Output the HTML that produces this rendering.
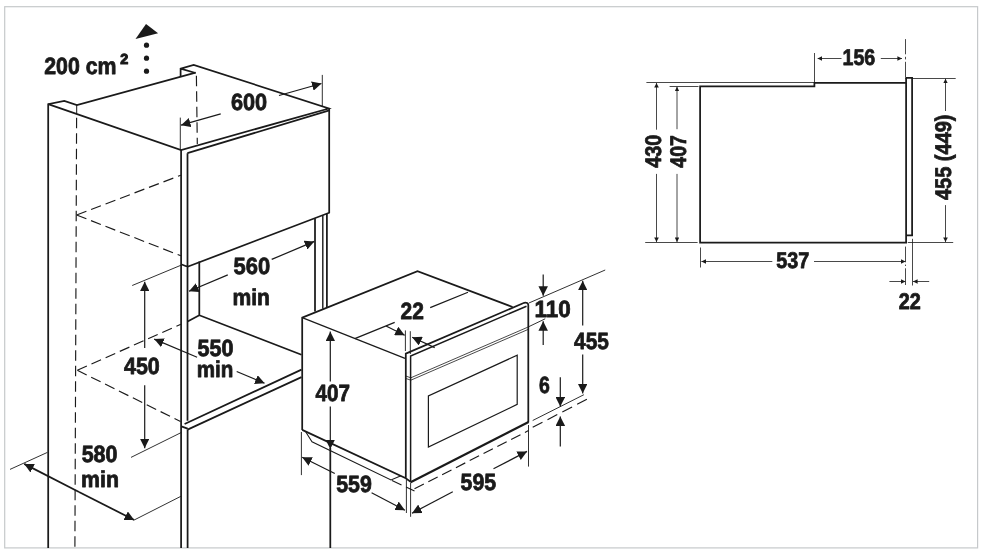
<!DOCTYPE html>
<html><head><meta charset="utf-8">
<style>
html,body{margin:0;padding:0;background:#fff;}
svg{display:block;will-change:transform;}
text{text-rendering:geometricPrecision;font-family:"Liberation Sans",sans-serif;font-weight:bold;fill:#1a1a1a;stroke:#1a1a1a;stroke-width:0.8;stroke-linejoin:round;}
.k{stroke:#1a1a1a;stroke-width:1.75;fill:none;stroke-linecap:butt;stroke-linejoin:miter;}
.t{stroke:#1a1a1a;stroke-width:0.8;fill:none;}
.d{stroke:#1a1a1a;stroke-width:1.15;fill:none;stroke-dasharray:10.5 5;}
.m{stroke:#1a1a1a;stroke-width:1.2;fill:none;}
.a{fill:#1a1a1a;stroke:none;}
</style></head>
<body>
<svg width="983" height="557" viewBox="0 0 983 557">
<defs>
<marker id="A" viewBox="0 0 10 10" refX="10" refY="5" markerWidth="9.5" markerHeight="9.5" markerUnits="userSpaceOnUse" orient="auto-start-reverse"><path d="M0,0 L10,5 L0,10 Z" fill="#1a1a1a"/></marker>
<marker id="S" viewBox="0 0 10 10" refX="10" refY="5" markerWidth="4.6" markerHeight="4.8" markerUnits="userSpaceOnUse" orient="auto-start-reverse"><path d="M0,0 L10,5 L0,10 Z" fill="#1a1a1a"/></marker>
</defs>
<rect x="0" y="0" width="983" height="557" fill="#fff"/>
<rect x="4.7" y="6.7" width="972.9" height="541.2" fill="none" stroke="#c6c9cb" stroke-width="1.2"/>

<!-- ===== CABINET ===== -->
<g id="cab">
<!-- top -->
<path class="k" d="M48.2,548 V104.2 L64.3,101 L76.9,105 L195.6,72.7"/>
<path class="k" d="M48.2,104.2 L181.1,150 L328.8,108.5 L193.7,64.8 L180.6,68.7 V76.4 M180.6,68.7 L195.6,73"/>
<path class="k" d="M187.4,153.2 L329.3,110.4"/>
<path class="k" d="M181.1,150 V548"/>
<path class="k" d="M187.5,153.2 V420.7 M187.6,429.6 V548 M181.1,264.3 L187.5,266.8"/>
<path class="k" d="M329.2,108.5 V212.7 L187.5,266.8"/>
<!-- under door right posts -->
<path class="k" d="M315,218.2 V311.5"/>
<path class="k" style="stroke-width:1.4" d="M322.8,215.3 V308.7"/>
<path class="k" d="M326.9,213.7 V307"/>
<!-- inner left wall & shelf -->
<path class="k" d="M199.3,261.5 V315.2 L301.5,354.8 M199.3,315.2 L187.6,321.4"/>
<!-- lower cabinet top -->
<path class="k" d="M181.3,426.4 L187.6,428.6 M184.6,424 L301.5,369.6 M187.6,429.6 L301.5,377.1"/>
<path class="k" d="M330.3,448 V548"/>
<!-- dashed hidden lines -->
<path class="t" style="stroke-width:1" d="M76.7,105 V113.5"/><path class="d" d="M76.6,117.8 L74.9,548"/>
<path class="d" d="M196.4,75.8 L197.3,144"/>
<path class="d" d="M76.6,215 L180.9,175.2 M76.6,215 L180.9,255.8"/>
<path class="d" d="M77.3,370.3 L180.9,324.2 M77.3,370.3 L180.5,421.5"/>
</g>

<!-- ===== OVEN ===== -->
<g id="oven">
<path class="k" d="M302.2,429.9 V317.6 L417.5,271.3 L512.6,307"/>
<path class="m" d="M302.2,317.6 L405,358.4"/>
<path class="k" d="M405.8,478.2 V353.6 L524.2,302.8 Q528,302.2 528.3,305 V422.3 M411,482.1 L405.8,478.2 L302.2,429.9"/>
<path class="k" style="stroke-width:2.2" d="M528.6,422 L410.6,482.2"/>
<path class="k" style="stroke-width:1.5" d="M410.6,482 V356 L526.5,306.2"/>
<path class="t" d="M405.4,375.9 L410.8,377.8 L528.2,327 M405.4,378.3 L410.8,380.2 L528.2,329.4"/>
<path class="m" d="M428.4,447.1 V395.9 L517.2,355.2 V404.4 Z"/>
<!-- foot -->
<path class="t" style="stroke-width:1.05" d="M305.8,432 L312,441.8 L391,480 L401,475.8"/>
<path class="d" d="M392,480.5 L414.5,491 "/>
<path class="d" d="M414.5,488.8 L528.5,430.6"/>
</g>

<!-- ===== SIDE VIEW ===== -->
<g id="side">
<path class="k" d="M906.1,77.9 V242.6 H700.1 V86.4 H814.4 V82.9 H906.1"/>
<path class="k" d="M905.3,77.9 H912.1 V235.4 H906.1"/>
<path class="t" d="M646.4,82.5 H815"/>
<path class="t" d="M669.6,86.5 H698.5"/>
<path class="t" d="M645.2,242.5 H697.6"/>
<path class="t" d="M814.5,53 V85"/>
<path class="t" d="M905.5,39.1 V54.3 M905.5,56.8 V59.4 M905.5,61.8 V77"/>
<path class="t" d="M912.9,78.5 H955.7 M907.8,242.5 H953.2"/>
<path class="t" d="M700.5,247.5 V267.5"/>
<path class="t" d="M905.5,246.6 V262.3 M905.5,264.6 V266 M905.5,268.3 V285"/>
<path class="t" d="M912.5,238.8 V285.5"/>
<!-- dims -->
<path class="t" d="M656.5,129.7 V83" marker-end="url(#S)"/>
<path class="t" d="M656.5,173.9 V242" marker-end="url(#S)"/>
<path class="t" d="M677,129.2 V86.8" marker-end="url(#S)"/>
<path class="t" d="M677,173.9 V242" marker-end="url(#S)"/>
<path class="t" d="M841.5,58.5 H817.6" marker-end="url(#S)"/>
<path class="t" d="M880.8,58.5 H902" marker-end="url(#S)"/>
<path class="t" d="M945.5,111 V78.7" marker-end="url(#S)"/>
<path class="t" d="M945.5,205.1 V242" marker-end="url(#S)"/>
<path class="t" d="M772.3,261.5 H701.4" marker-end="url(#S)"/>
<path class="t" d="M814,261.5 H905.3" marker-end="url(#S)"/>
<path class="t" d="M889.4,281.5 H905.3" marker-end="url(#S)"/>
<path class="t" d="M929.2,281.5 H913" marker-end="url(#S)"/>
<text x="842.5" y="65" font-size="22.6" textLength="32.8" lengthAdjust="spacingAndGlyphs">156</text>
<text x="776.3" y="268" font-size="22.6" textLength="33.0" lengthAdjust="spacingAndGlyphs">537</text>
<text x="898.8" y="309" font-size="22.6" textLength="22.1" lengthAdjust="spacingAndGlyphs">22</text>
<text transform="translate(661,167.7) rotate(-90)" font-size="22.6" textLength="33" lengthAdjust="spacingAndGlyphs">430</text>
<text transform="translate(686.4,167.7) rotate(-90)" font-size="22.6" textLength="32.5" lengthAdjust="spacingAndGlyphs">407</text>
<text transform="translate(951.3,200) rotate(-90)" font-size="22.6" textLength="85.5" lengthAdjust="spacingAndGlyphs">455 (449)</text>
</g>

<!-- ===== ISO DIMS ===== -->
<g id="dims">
<!-- 200cm2 -->
<path class="a" d="M146,24 L135.5,39 L158.1,33.3 Z"/>
<circle class="a" cx="146.5" cy="45.2" r="2.6"/><circle class="a" cx="146.5" cy="58.2" r="2.6"/><circle class="a" cx="146.5" cy="71.2" r="2.6"/>
<text x="44.2" y="74" font-size="23.5" textLength="72.3" lengthAdjust="spacingAndGlyphs">200 cm</text>
<text x="120.3" y="64.1" font-size="14.6" style="stroke-width:1.1" textLength="8.0" lengthAdjust="spacingAndGlyphs">2</text>
<!-- 600 -->
<path class="t" style="stroke-width:0.9" d="M322.3,74.9 V106.5 M180.3,117.6 V150"/>
<path class="m" d="M279,95.5 L321.5,83.5" marker-end="url(#A)"/>
<path class="m" d="M220.7,113.8 L181,125.2" marker-end="url(#A)"/>
<text x="230.9" y="110" font-size="23.5" textLength="36.2" lengthAdjust="spacingAndGlyphs">600</text>
<!-- 560 -->
<path class="m" d="M227.8,274.9 L189,291.3" marker-end="url(#A)"/>
<path class="m" d="M271.7,259.4 L314.3,241.4" marker-end="url(#A)"/>
<text x="233.5" y="274" font-size="23.5" textLength="36.6" lengthAdjust="spacingAndGlyphs">560</text>
<text x="232.5" y="305" font-size="22.9" textLength="37.5" lengthAdjust="spacingAndGlyphs">min</text>
<!-- 450 -->
<path class="t" style="stroke-width:0.9" d="M132.2,285.5 L181.3,265.1 M131,457.4 L181.3,432.5"/>
<path class="m" d="M144.7,347.9 V281.7" marker-end="url(#A)"/>
<path class="m" d="M144.7,385.3 V448.2" marker-end="url(#A)"/>
<text x="124.0" y="374" font-size="23.5" textLength="35.8" lengthAdjust="spacingAndGlyphs">450</text>
<!-- 550 -->
<path class="m" d="M197.1,357.3 L154.2,339.1" marker-end="url(#A)"/>
<path class="m" d="M236.7,371.5 L264.6,383.3" marker-end="url(#A)"/>
<text x="197.6" y="356" font-size="23.5" textLength="36.0" lengthAdjust="spacingAndGlyphs">550</text>
<text x="196.8" y="377" font-size="22.9" textLength="36.6" lengthAdjust="spacingAndGlyphs">min</text>
<!-- 580 -->
<path class="t" style="stroke-width:0.9" d="M10,469.4 L47.4,452.4 M134.2,520 L180.9,496.3"/>
<path class="k" d="M79,492 L24.2,463.9" marker-end="url(#A)"/>
<path class="k" d="M79,492 L134.2,520" marker-end="url(#A)"/>
<text x="81.7" y="462" font-size="23.5" textLength="35.8" lengthAdjust="spacingAndGlyphs">580</text>
<text x="81.1" y="487" font-size="22.9" textLength="37.9" lengthAdjust="spacingAndGlyphs">min</text>
<!-- 22 iso -->
<path class="m" d="M430.2,307.6 L468,292.2 M354.8,338.6 L394.7,322.4"/>
<path class="t" style="stroke-width:0.9" d="M405.4,330.4 V351 M410.3,331.2 V354"/>
<path class="m" d="M386,326 L404.7,335.2" marker-end="url(#A)"/>
<path class="m" d="M434.7,347.6 L412.2,337.2" marker-end="url(#A)"/>
<text x="400.5" y="319" font-size="23.5" textLength="23.3" lengthAdjust="spacingAndGlyphs">22</text>
<!-- 407 -->
<path class="m" d="M330.3,381.5 V331.6" marker-end="url(#A)"/>
<path class="m" d="M330.3,406.5 V449" marker-end="url(#A)"/>
<text x="315.6" y="401" font-size="23.5" textLength="34.5" lengthAdjust="spacingAndGlyphs">407</text>
<!-- 110 -->
<path class="t" style="stroke-width:0.9" d="M528.9,303 L605.2,270 M528.1,327 L545.2,318.8"/>
<path class="m" d="M543.2,274.5 V295.8" marker-end="url(#A)"/>
<path class="m" d="M543.2,345.1 V321.3" marker-end="url(#A)"/>
<text x="534.5" y="317" font-size="23.5" textLength="36.2" lengthAdjust="spacingAndGlyphs">110</text>
<!-- 455 -->
<path class="m" d="M582.7,325.6 V280.8" marker-end="url(#A)"/>
<path class="m" d="M582.7,354.6 V393.4" marker-end="url(#A)"/>
<text x="574.1" y="349" font-size="23.5" textLength="34.8" lengthAdjust="spacingAndGlyphs">455</text>
<!-- 6 -->
<path class="t" style="stroke-width:0.9" d="M532.7,420.5 L583.9,394.7"/>
<path class="d" style="stroke-dasharray:11 5.67" d="M532.7,427.3 L586.9,399.3"/>
<path class="m" d="M560.3,377.3 V406.6" marker-end="url(#A)"/>
<path class="m" d="M560.3,446.5 V416.4" marker-end="url(#A)"/>
<text x="539.0" y="393" font-size="23.5" textLength="10.8" lengthAdjust="spacingAndGlyphs">6</text>
<!-- 559 -->
<path class="t" style="stroke-width:0.9" d="M301.4,432 V475.1 M406.4,479.4 V513 M410.6,483 V516.8 M528.5,425 V466.6"/>
<path class="m" d="M334.8,473.5 L302.2,457.3" marker-end="url(#A)"/>
<path class="m" d="M371.6,492.8 L404.9,510.2" marker-end="url(#A)"/>
<text x="336.2" y="492" font-size="23.5" textLength="35.6" lengthAdjust="spacingAndGlyphs">559</text>
<!-- 595 -->
<path class="m" d="M452.8,491.8 L412,513.2" marker-end="url(#A)"/>
<path class="m" d="M493.5,468.8 L527,451.4" marker-end="url(#A)"/>
<text x="460.6" y="490" font-size="23.5" textLength="35.5" lengthAdjust="spacingAndGlyphs">595</text>
</g>

</svg>
</body></html>
